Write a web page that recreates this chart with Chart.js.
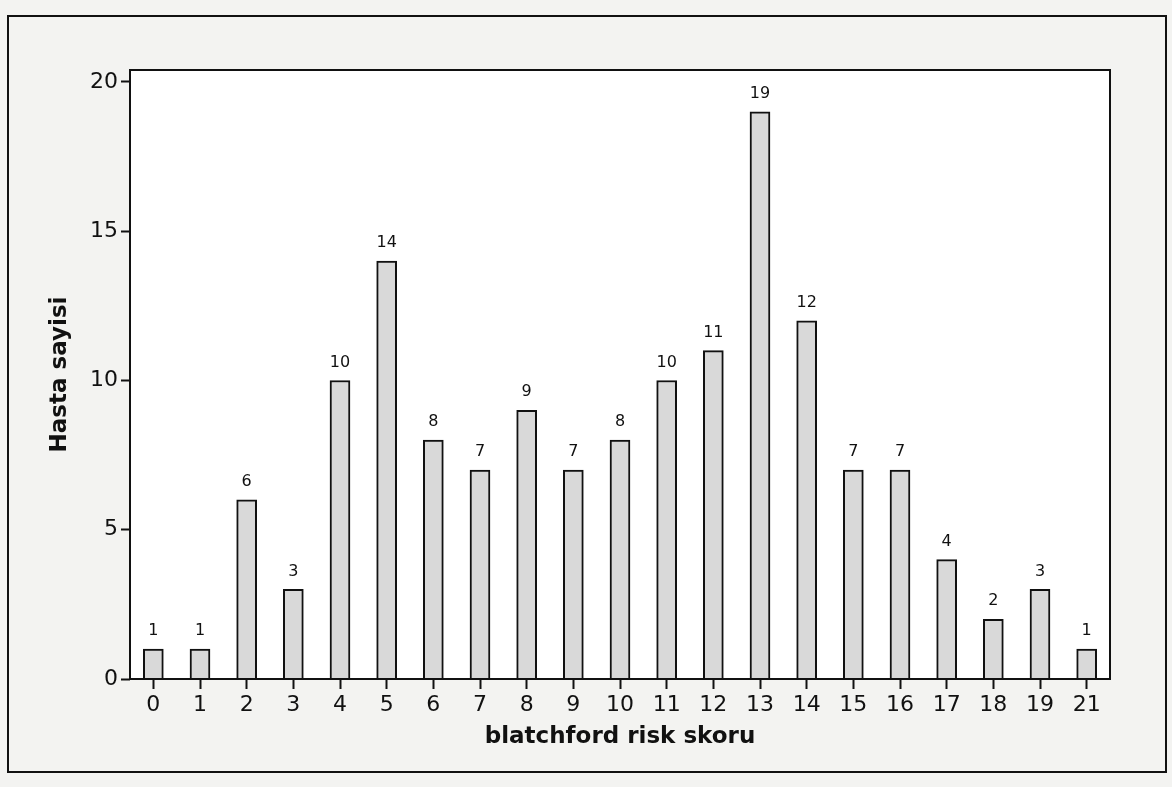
<!DOCTYPE html>
<html>
<head>
<meta charset="utf-8">
<script src="https://cdn.jsdelivr.net/npm/chart.js@4"></script>
<style>
  html, body { margin: 0; padding: 0; background: #f3f3f1; }
  #wrap { position: relative; width: 1172px; height: 787px; }
</style>
</head>
<body>
<div id="wrap"><canvas id="myChart"></canvas></div>
<script>
// data block
const scores = ['0', '1', '2', '3', '4', '5', '6', '7', '8', '9', '10',
                '11', '12', '13', '14', '15', '16', '17', '18', '19', '21'];
const patients = [1, 1, 6, 3, 10, 14, 8, 7, 9, 7, 8, 10, 11, 19, 12, 7, 7, 4, 2, 3, 1];
const yTicks = [0, 5, 10, 15, 20];

const FONT = '"DejaVu Sans", Verdana, sans-serif';

// frame + white plot area + value labels
const framePlugin = {
    id: 'frame',
    beforeDraw(chart) {
        const ctx = chart.ctx;
        const a = chart.chartArea;
        ctx.save();
        ctx.fillStyle = '#f3f3f1';
        ctx.fillRect(0, 0, chart.width, chart.height);
        ctx.strokeStyle = '#111';
        ctx.lineWidth = 2;
        ctx.strokeRect(8, 16, 1158, 756);
        ctx.fillStyle = '#ffffff';
        ctx.fillRect(a.left, a.top, a.right - a.left, a.bottom - a.top);
        ctx.restore();
    },
    afterDatasetsDraw(chart) {
        const ctx = chart.ctx;
        const a = chart.chartArea;
        ctx.save();
        ctx.strokeStyle = '#111';
        ctx.lineWidth = 2;
        ctx.strokeRect(a.left, a.top, a.right - a.left, a.bottom - a.top);
        ctx.fillStyle = '#111';
        ctx.font = '16px ' + FONT;
        ctx.textAlign = 'center';
        ctx.textBaseline = 'bottom';
        chart.getDatasetMeta(0).data.forEach((bar, i) => {
            ctx.fillText(String(patients[i]), bar.x, bar.y - 10);
        });
        ctx.restore();
    }
};

// config block
const config = {
    type: 'bar',
    data: {
        labels: scores,
        datasets: [{
            data: patients,
            backgroundColor: '#d9d9d9',
            borderColor: '#111',
            borderWidth: 2,
            borderSkipped: 'bottom',
            barThickness: 20
        }]
    },
    options: {
        responsive: true,
        maintainAspectRatio: false,
        animation: false,
        layout: { padding: { left: 46, top: 70, right: 62, bottom: 36 } },
        plugins: {
            legend: { display: false },
            tooltip: { enabled: false }
        },
        scales: {
            x: {
                afterFit: (s) => { s.height = 787 - 36 - 70 - 609; },
                grid: {
                    offset: false,
                    drawOnChartArea: false,
                    drawTicks: true,
                    tickLength: 10,
                    tickColor: '#111',
                    tickWidth: 2
                },
                border: { display: false },
                ticks: {
                    color: '#111',
                    font: { family: FONT, size: 22 },
                    padding: 3,
                    maxRotation: 0
                },
                title: {
                    display: true,
                    text: 'blatchford risk skoru',
                    color: '#111',
                    font: { family: FONT, size: 23, weight: 'bold' },
                    padding: { top: 0, bottom: 0 }
                }
            },
            y: {
                min: 0,
                max: 20.4,
                afterFit: (s) => { s.width = 130 - 46; },
                afterBuildTicks: (s) => { s.ticks = yTicks.map(v => ({ value: v })); },
                grid: {
                    drawOnChartArea: false,
                    drawTicks: true,
                    tickLength: 9,
                    tickColor: '#111',
                    tickWidth: 2
                },
                border: { display: false },
                ticks: {
                    color: '#111',
                    font: { family: FONT, size: 22 },
                    padding: 3
                },
                title: {
                    display: true,
                    text: 'Hasta sayisi',
                    color: '#111',
                    font: { family: FONT, size: 23, weight: 'bold' },
                    padding: { top: 0, bottom: 0 }
                }
            }
        }
    },
    plugins: [framePlugin]
};

// init render block
const myChart = new Chart(
    document.getElementById('myChart'),
    config
);
</script>
</body>
</html>
